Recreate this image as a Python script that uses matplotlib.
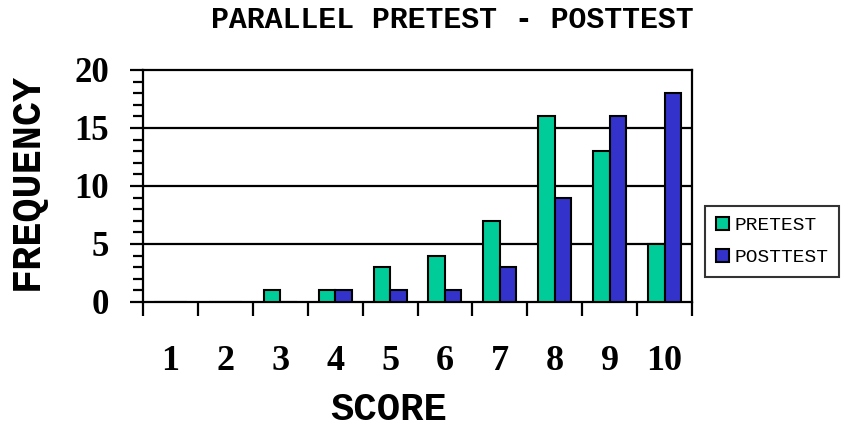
import matplotlib
matplotlib.use("Agg")
import matplotlib.pyplot as plt
import numpy as np
from matplotlib.ticker import MultipleLocator, FixedLocator, NullFormatter

scores = ["1", "2", "3", "4", "5", "6", "7", "8", "9", "10"]
pretest = [0, 0, 1, 1, 3, 4, 7, 16, 13, 5]
posttest = [0, 0, 0, 1, 1, 1, 3, 9, 16, 18]
series_names = ["PRETEST", "POSTTEST"]
yticks = [0, 5, 10, 15, 20]

green = "#00CC99"
blue = "#3333CC"

fig = plt.figure(figsize=(8.49, 4.32), dpi=100)
ax = fig.add_axes([143/849, 1-302/432, (692-143)/849, (302-70)/432])

x = np.arange(1, len(scores)+1)
w = 0.3
ax.bar(x - w/2, pretest, width=w, color=green, edgecolor="black", linewidth=1.5, label=series_names[0], zorder=3)
ax.bar(x + w/2, posttest, width=w, color=blue, edgecolor="black", linewidth=1.5, label=series_names[1], zorder=3)

ax.set_xlim(0.5, 10.5)
ax.set_ylim(0, 20)

for yv in yticks[1:-1]:
    ax.axhline(yv, color="black", linewidth=1.6, zorder=1)

for s in ax.spines.values():
    s.set_linewidth(1.6)

ax.yaxis.set_minor_locator(MultipleLocator(1))
ax.set_yticks(yticks)
ax.set_yticklabels([str(v) for v in yticks], fontfamily="Liberation Serif", fontweight="bold", fontsize=25)
ax.tick_params(axis="y", which="major", direction="out", length=9.5, width=1.6, pad=15)
ax.tick_params(axis="y", which="minor", direction="out", length=7, width=1.6)

# x ticks at category boundaries, labels at centers
ax.xaxis.set_major_locator(FixedLocator(np.arange(0.5, 11, 1)))
ax.xaxis.set_major_formatter(NullFormatter())
ax.tick_params(axis="x", which="major", direction="out", length=10, width=1.6)
ax.xaxis.set_minor_locator(FixedLocator(x))
ax.set_xticklabels(scores, minor=True, fontfamily="Liberation Serif", fontweight="bold", fontsize=26)
ax.tick_params(axis="x", which="minor", length=0, pad=31)

ax.set_xlabel("SCORE", fontfamily="Liberation Mono", fontweight="bold", fontsize=28, va="center")
ax.xaxis.set_label_coords((388.5-143)/549, (302-410)/232)
ax.set_ylabel("FREQUENCY", fontfamily="Liberation Mono", fontweight="bold", fontsize=29, va="center")
ax.yaxis.set_label_coords((27-143)/549, (302-181)/232)

fig.text(452/849, 1-20/432, "PARALLEL PRETEST - POSTTEST", ha="center", va="center",
         fontfamily="Liberation Mono", fontweight="bold", fontsize=21.5)

leg = fig.legend(loc="upper left", bbox_to_anchor=(705/849, 1-206/432), frameon=True,
                 prop={"family": "Liberation Mono", "size": 14}, fancybox=False,
                 edgecolor="black", handlelength=0.67, handleheight=0.67, handletextpad=0.3,
                 borderpad=0.55, labelspacing=0.75, borderaxespad=0)
leg.get_frame().set_linewidth(1.5)

fig.savefig("out.png", dpi=100)
